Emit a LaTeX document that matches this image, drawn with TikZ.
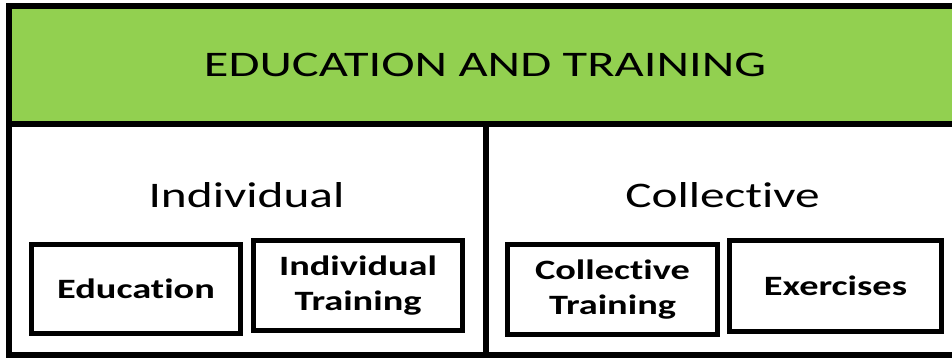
\documentclass[tikz,border=0pt]{standalone}
\usepackage{fontspec}
\setmainfont[Ligatures={NoCommon}]{Carlito}
\usepackage{graphicx}
\definecolor{hdrgreen}{HTML}{92D050}
\newcommand{\stretchx}[1]{\scalebox{1.37}[1]{#1}}
\begin{document}
\begin{tikzpicture}[x=1pt,y=-1pt,
  frame/.style={line width=6pt},
  itembox/.style={draw=black,line width=5pt,fill=white,inner sep=0pt,
    font=\fontsize{28}{35}\selectfont\bfseries,align=center},
  bigtext/.style={inner sep=0pt,anchor=base,font=\fontsize{36}{40}\selectfont}]
\useasboundingbox (0,0) rectangle (952,358);
\clip (0,0) rectangle (952,358);
% frame
\fill[white] (0,0) rectangle (952,358);
\draw[frame,fill=hdrgreen] (9,6.5) rectangle (970,124);
\draw[frame] (9,124) -- (9,355) -- (970,355);
\draw[frame] (486,124) -- (486,355);
% header and section titles
\node[bigtext] (hdr) at (485,77) {\scalebox{1.4}[1]{EDUCATION AND TRAINING}};
\node[bigtext] (ind) at (246.5,207) {\stretchx{Individual}};
\node[bigtext] (col) at (722.5,207) {\stretchx{Collective}};
% boxes
\node[itembox,minimum width=209pt,minimum height=89pt] (edu) at (136,289)
  {\stretchx{Education}};
\node[itembox,minimum width=209pt,minimum height=90pt] (indtr) at (358,285.5)
  {\stretchx{\begin{tabular}{@{}c@{}}Individual\\Training\end{tabular}}};
\node[itembox,minimum width=210pt,minimum height=90pt] (coltr) at (612.5,289.5)
  {\stretchx{\begin{tabular}{@{}c@{}}Collective\\Training\end{tabular}}};
\node[itembox,minimum width=212pt,minimum height=91pt] (exe) at (835.5,286)
  {\stretchx{Exercises}};
\end{tikzpicture}
\end{document}
